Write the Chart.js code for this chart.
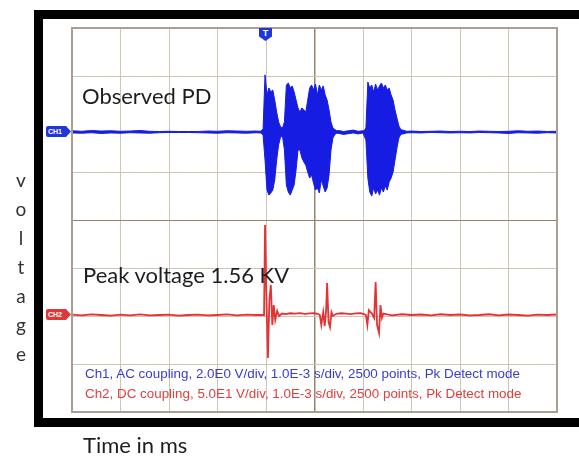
<!DOCTYPE html>
<html>
<head>
<meta charset="utf-8">
<script src="https://cdn.jsdelivr.net/npm/chart.js@4/dist/chart.umd.min.js"></script>
<style>
  body { margin: 0; background: #fff; overflow: hidden; }
  #wrap { position: relative; width: 579px; height: 460px; overflow: hidden; }
  #frame { position: absolute; left: 34px; top: 10px; width: 700px; height: 417px; box-sizing: border-box; border: 9px solid #000; }
  canvas { position: absolute; left: 0; top: 0; }
  .lbl { position: absolute; font-family: Lato, "Noto Sans", sans-serif; color: #1e1e1e; line-height: 1; white-space: nowrap; }
  .info { position: absolute; font-family: "Liberation Sans", Arial, sans-serif; font-size: 13.4px; line-height: 13px; white-space: nowrap; }
  #ylab { position: absolute; left: 11px; top: 165px; width: 20px; text-align: center; font-family: Lato, sans-serif; font-size: 19px; line-height: 29px; color: #333; }
  .chtag { position: absolute; width: 25px; height: 11px; color: #fff; font: bold 7px "Liberation Sans", Arial, sans-serif; line-height: 11px; padding-left: 2px; box-sizing: border-box;
           clip-path: polygon(0 0, 80% 0, 100% 50%, 80% 100%, 0 100%); border-radius: 2px 0 0 2px; }
  #trig { position: absolute; left: 259px; top: 28px; width: 13px; height: 13px; background: #2036d8; color: #fff; font: bold 9px "Liberation Sans", Arial, sans-serif;
          text-align: center; line-height: 10px; clip-path: polygon(0 0, 100% 0, 100% 65%, 50% 100%, 0 65%); }
</style>
</head>
<body>
<div id="wrap">
  <div id="frame"></div>
  <canvas id="scope" width="579" height="460"></canvas>
  <div class="lbl" style="left:82px; top:85px; font-size:22px;">Observed PD</div>
  <div class="lbl" style="left:83px; top:264px; font-size:22px;">Peak voltage 1.56 KV</div>
  <div class="lbl" style="left:83px; top:434px; font-size:22px;">Time in ms</div>
  <div id="ylab">v<br>o<br>l<br>t<br>a<br>g<br>e</div>
  <div class="info" style="left:85px; top:367px; color:#3a3ccf;">Ch1, AC coupling, 2.0E0 V/div, 1.0E-3 s/div, 2500 points, Pk Detect mode</div>
  <div class="info" style="left:85px; top:387px; color:#e0403c;">Ch2, DC coupling, 5.0E1 V/div, 1.0E-3 s/div, 2500 points, Pk Detect mode</div>
  <div class="chtag" style="left:46px; top:126px; background:#2036d8;">CH1</div>
  <div class="chtag" style="left:46px; top:309px; background:#e0383a;">CH2</div>
  <div id="trig">T</div>
</div>
<script>
"use strict";
const CH1_BLUE = "rgb(22,28,225)";
const CH2_RED = "rgb(226,52,52)";
const GRID_LIGHT = "#cfc4b6";
const GRID_CENTER = "#98836c";
const GRID_EDGE = "#a9a091";

// time axis, ms (1.0E-3 s/div, 10 div)
const TIME_MIN = 0;
const TIME_MAX = 10;

// Ch1 peak-detect envelope, volts (2 V/div)
const ch1Time = [
  0, 0.2, 0.4, 0.6, 0.8, 1.0, 1.2, 1.4, 1.6, 1.8, 2.0, 2.2, 2.4, 2.6, 2.8, 3.0, 3.2, 3.4, 3.6, 3.8, 3.86,
  3.90, 3.94, 3.98, 4.02, 4.06, 4.10, 4.14, 4.18, 4.22, 4.26, 4.30, 4.34, 4.38, 4.42, 4.46, 4.50, 4.54, 4.58, 4.62, 4.66,
  4.70, 4.74, 4.78, 4.82, 4.86, 4.90, 4.94, 4.98, 5.02, 5.06, 5.10, 5.14, 5.18, 5.22, 5.26, 5.30, 5.34, 5.38, 5.42, 5.46,
  5.5, 5.6, 5.7, 5.8, 5.9, 6.0,
  6.02, 6.06, 6.10, 6.14, 6.18, 6.22, 6.26, 6.30, 6.34, 6.38, 6.42, 6.46, 6.50, 6.54, 6.58, 6.62, 6.66, 6.70, 6.74, 6.78,
  6.9, 7.0, 7.2, 7.4, 7.6, 7.8, 8.0, 8.2, 8.4, 8.6, 8.8, 9.0, 9.2, 9.4, 9.6, 9.8, 10.0,
];
const ch1Max = [
  0.05, 0.03, 0.06, 0.04, 0.05, 0.03, 0.04, 0.06, 0.03, 0.02, 0.03, 0.02, 0.02, 0.02, 0.04, 0.03, 0.05, 0.04, 0.03, 0.04, 0.03,
  0.04, 0.13, 2.38, 1.54, 1.83, 1.67, 1.75, 1.33, 0.83, 0.42, 0.21, 0.17, 0.42, 1.96, 2.04, 1.83, 1.92, 1.67, 1.33, 1.00,
  0.83, 1.00, 0.92, 0.83, 1.33, 1.83, 1.96, 1.75, 2.00, 1.54, 1.96, 1.75, 1.92, 1.54, 1.33, 0.92, 0.42, 0.17, 0.10, 0.05,
  0.06, 0.02, 0.05, 0.08, 0.03, 0.05,
  0.04, 0.17, 2.08, 1.83, 1.96, 1.67, 2.00, 1.75, 1.92, 2.04, 1.83, 1.96, 1.75, 1.83, 1.54, 1.33, 0.92, 0.58, 0.25, 0.10,
  0.03, 0.04, 0.02, 0.03, 0.04, 0.02, 0.03, 0.02, 0.04, 0.03, 0.02, 0.03, 0.05, 0.03, 0.04, 0.02, 0.03,
];
const ch1Min = [
  -0.04, -0.05, -0.03, -0.06, -0.04, -0.05, -0.03, -0.04, -0.05, -0.03, -0.02, -0.02, -0.02, -0.03, -0.04, -0.05, -0.03, -0.04, -0.05, -0.03, -0.04,
  -0.04, -0.13, -1.17, -2.42, -2.63, -2.54, -2.42, -2.00, -1.17, -0.54, -0.21, -0.17, -0.75, -2.21, -2.50, -2.63, -2.42, -2.21, -1.58, -0.75,
  -0.75, -1.08, -1.25, -1.38, -1.67, -1.92, -1.79, -2.13, -2.42, -2.33, -2.54, -2.00, -2.25, -2.50, -2.33, -1.79, -0.75, -0.25, -0.10, -0.05,
  -0.06, -0.10, -0.07, -0.04, -0.08, -0.04,
  -0.04, -0.33, -1.92, -2.50, -2.67, -2.33, -2.58, -2.42, -2.63, -2.33, -2.50, -2.25, -2.42, -2.08, -1.92, -1.67, -1.17, -0.67, -0.25, -0.10,
  -0.04, -0.03, -0.04, -0.02, -0.03, -0.04, -0.03, -0.04, -0.02, -0.03, -0.04, -0.06, -0.03, -0.04, -0.05, -0.03, -0.04,
];

// Ch2 trace, volts (50 V/div)
const ch2Time = [
  0, 0.2, 0.4, 0.6, 0.8, 1.0, 1.2, 1.4, 1.6, 1.8, 2.0, 2.2, 2.4, 2.6, 2.8, 3.0, 3.2, 3.4, 3.6, 3.8,
  3.90, 3.96, 3.98, 4.01, 4.04, 4.07, 4.10, 4.13, 4.16, 4.19, 4.23, 4.27, 4.33,
  4.4, 4.5, 4.6, 4.7, 4.8, 4.9, 5.0, 5.08,
  5.11, 5.14, 5.18, 5.21, 5.24, 5.26, 5.29, 5.32, 5.35, 5.38,
  5.45, 5.55, 5.65, 5.75, 5.85, 5.95, 6.02,
  6.06, 6.09, 6.12, 6.19, 6.23, 6.26, 6.29, 6.33, 6.36, 6.39, 6.42,
  6.5, 6.6, 6.8, 7.0, 7.2, 7.4, 7.6, 7.8, 8.0, 8.2, 8.4, 8.6, 8.8, 9.0, 9.2, 9.4, 9.6, 9.8, 10.0,
];
const ch2Val = [
  0.5, -0.4, 0.6, 0, -0.6, 0.4, -0.3, 0.6, -0.4, 0, 0.4, -0.6, 0, 0.4, -0.4, 0, 0.6, -0.4, 0.4, 0,
  0, 0, 93.8, 15.6, -44.8, 15.6, 31.3, -10.4, 10.4, -5.2, 4.2, -1, 1.5,
  1, 1.8, 1.4, 2, 1.2, 1.6, 2, 1,
  0, -10.4, 3, -11.5, 5, 33.3, -7.3, -12.5, 3, -1,
  1.2, 1.8, 1.4, 1, 1.6, 1.8, 1,
  0, -10.4, 5, 1, -3, 34.4, -10.4, -18.8, 10.4, -3, 1.5,
  0.6, -0.4, 0.8, 0, 0.5, -0.4, 0.8, 0, 0.5, -0.4, 0, 0.8, -0.4, 0.5, 0, -0.6, 0.4, 0, 0.5,
];

function toPoints(xs, ys) {
  return xs.map((x, i) => ({ x: x, y: ys[i] }));
}

function gridColor(center, hidden) {
  return (ctx) => {
    const v = ctx.tick && ctx.tick.value;
    if (v === hidden) return "rgba(0,0,0,0)";
    return v === center ? GRID_CENTER : GRID_LIGHT;
  };
}

const ctx = document.getElementById("scope").getContext("2d");
const scopeChart = new Chart(ctx, {
  type: "line",
  data: {
    datasets: [
      {
        label: "Ch1 max",
        data: toPoints(ch1Time, ch1Max),
        yAxisID: "y1",
        borderColor: CH1_BLUE,
        backgroundColor: CH1_BLUE,
        borderWidth: 1,
        pointRadius: 0,
        tension: 0,
        fill: false,
      },
      {
        label: "Ch1 min",
        data: toPoints(ch1Time, ch1Min),
        yAxisID: "y1",
        borderColor: CH1_BLUE,
        backgroundColor: CH1_BLUE,
        borderWidth: 1,
        pointRadius: 0,
        tension: 0,
        fill: "-1",
      },
      {
        label: "Ch2",
        data: toPoints(ch2Time, ch2Val),
        yAxisID: "y2",
        borderColor: CH2_RED,
        borderWidth: 1.8,
        pointRadius: 0,
        tension: 0,
        fill: false,
      },
    ],
  },
  options: {
    responsive: false,
    animation: false,
    layout: { padding: { left: 72, right: 22, top: 28, bottom: 48 } },
    plugins: { legend: { display: false }, tooltip: { enabled: false } },
    scales: {
      x: {
        type: "linear",
        min: TIME_MIN,
        max: TIME_MAX,
        ticks: { display: false, stepSize: 1 },
        grid: { color: gridColor(5), lineWidth: (c) => (c.tick.value === 5 ? 1.5 : 1), drawTicks: false },
        border: { display: true, color: GRID_EDGE, width: 2 },
        afterFit: (s) => { s.height = 0; },
      },
      yGrid: {
        type: "linear",
        position: "left",
        min: -4,
        max: 4,
        ticks: { display: false, stepSize: 1 },
        grid: { color: gridColor(0, 2), drawTicks: false },
        border: { display: true, color: GRID_EDGE, width: 2 },
        afterFit: (s) => { s.width = 0; },
      },
      y1: { type: "linear", display: false, min: -11.667, max: 4.333 },
      y2: { type: "linear", display: false, min: -101.04, max: 298.96 },
    },
  },
  plugins: [
    {
      id: "edgeBox",
      afterDraw(chart) {
        const a = chart.chartArea;
        const c = chart.ctx;
        c.save();
        c.strokeStyle = GRID_EDGE;
        c.lineWidth = 2;
        c.strokeRect(a.left, a.top, a.right - a.left, a.bottom - a.top);
        c.restore();
      },
    },
  ],
});
</script>
</body>
</html>
